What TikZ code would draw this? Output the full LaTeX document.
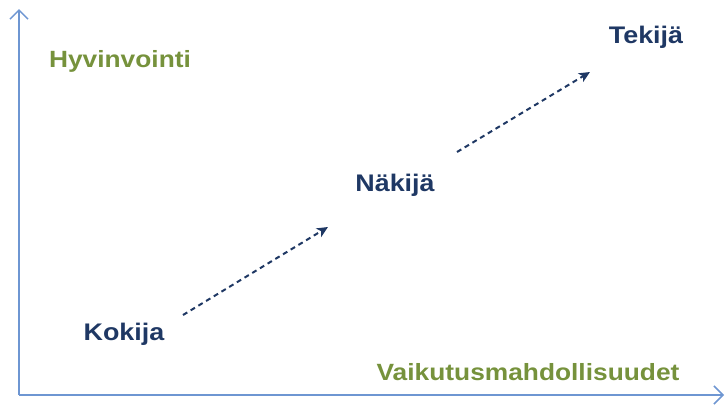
\documentclass[tikz,border=0pt]{standalone}
\usepackage{fontspec}
\usepackage{graphicx}
\setmainfont{Liberation Sans}
\usetikzlibrary{arrows.meta}
\definecolor{axisblue}{RGB}{110,150,210}
\definecolor{olive}{RGB}{118,146,60}
\definecolor{navy}{RGB}{31,56,100}
\tikzset{
  axis/.style={draw=axisblue, line width=1.5pt, -{Straight Barb[length=9pt,width=18pt,line width=1.5pt]}},
  axlabel/.style={text=olive, font=\bfseries\fontsize{23.5}{27}\selectfont, inner sep=0pt},
  role/.style={text=navy, font=\bfseries\fontsize{24}{28}\selectfont, inner sep=0pt},
  flow/.style={draw=navy, line width=2pt, dash pattern=on 5pt off 4pt, -{Stealth[length=11pt,width=10pt,inset=3pt]}}
}
\newcommand{\wide}[1]{\scalebox{1.12}[1]{#1}}
\begin{document}
\begin{tikzpicture}[x=1pt,y=-1pt]
\useasboundingbox (0,0) rectangle (725,405);
\coordinate (o) at (19,395);
\coordinate (ytop) at (19,9);
\coordinate (xend) at (724,395);
\draw[axis] (o) -- (ytop);
\draw[axis] (o) -- (xend);
\node[axlabel] (hyv) at (120,61) {\wide{Hyvinvointi}};
\node[axlabel] (vai) at (528,372) {\wide{Vaikutusmahdollisuudet}};
\node[role] (kok) at (124,334) {\wide{Kokija}};
\node[role] (nak) at (395,185) {\wide{Näkijä}};
\node[role] (tek) at (646,37) {\wide{Tekijä}};
\coordinate (a1s) at (183,315);
\coordinate (a1e) at (328,227);
\coordinate (a2s) at (457,152);
\coordinate (a2e) at (590,72);
\draw[flow] (a1s) -- (a1e);
\draw[flow] (a2s) -- (a2e);
\end{tikzpicture}
\end{document}
